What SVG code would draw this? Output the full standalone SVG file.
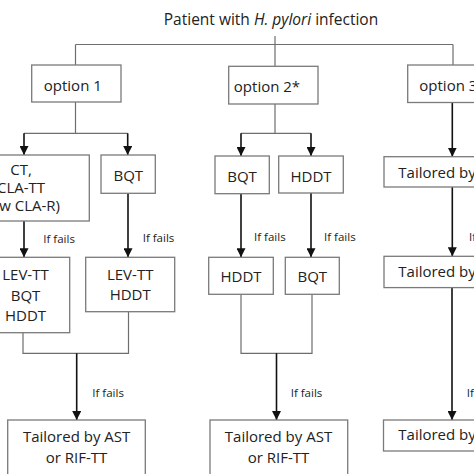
<svg xmlns="http://www.w3.org/2000/svg" width="474" height="474" viewBox="0 0 474 474">
<style>
text{font-family:"Open Sans","Liberation Sans",sans-serif;fill:#222;}
.t{font-size:15px;}
.c{text-anchor:middle;}
.f{font-size:11.5px;}
.box{fill:#fff;stroke:#7a7a7a;stroke-width:1.3;}
.ln{fill:none;stroke:#6e6e6e;stroke-width:1.2;}
.ar{fill:none;stroke:#111;stroke-width:1.6;marker-end:url(#ah);}
</style>
<defs>
<marker id="ah" viewBox="0 0 10 10" refX="10" refY="5" markerWidth="9" markerHeight="9" markerUnits="userSpaceOnUse" orient="auto">
<path d="M0,0 L10,5 L0,10 z" fill="#111"/>
</marker>
</defs>
<rect width="474" height="474" fill="#fff"/>
<g id="title"><text class="t c" x="271" y="25" style="font-size:15.5px">Patient with <tspan font-style="italic">H. pylori</tspan> infection</text></g>
<g id="connectors">
<path class="ln" d="M275,36 V66.3 M75.5,44.5 H453 M75.5,44.5 V65 M453,44.5 V65"/>
<path class="ln" d="M75.5,102 V133.3 M24,133.3 H127.7"/>
<path class="ln" d="M275,104 V133.3 M241,133.3 H311"/>
<path class="ln" d="M23,332.7 V353.3 H128.5 V311.7 M241,294.3 V353.3 H312 V294.3"/>
<path class="ar" d="M24,133.3 V155"/>
<path class="ar" d="M127.7,133.3 V155"/>
<path class="ar" d="M241,133.3 V156"/>
<path class="ar" d="M311,133.3 V156"/>
<path class="ar" d="M452.3,102.5 V156.7"/>
<path class="ar" d="M24,221 V257.3"/>
<path class="ar" d="M128,193.3 V257.3"/>
<path class="ar" d="M241,193.7 V257.3"/>
<path class="ar" d="M311,193 V257.3"/>
<path class="ar" d="M452.3,187 V256.3"/>
<path class="ar" d="M76.7,353.3 V420"/>
<path class="ar" d="M276.5,353.3 V420"/>
<path class="ar" d="M452,287.6 V420"/>
<text class="f" x="43.3" y="242.7">If fails</text>
<text class="f" x="142.7" y="241.7">If fails</text>
<text class="f" x="254" y="240.7">If fails</text>
<text class="f" x="324" y="240.7">If fails</text>
<text class="f" x="469" y="241">If fails</text>
<text class="f" x="92.3" y="397.3">If fails</text>
<text class="f" x="290.7" y="397.3">If fails</text>
<text class="f" x="466.7" y="397.3">If fails</text>
</g>
<g id="opt1"><rect class="box" x="31.7" y="65" width="89.3" height="37"/><text class="t c" x="72.8" y="90.7">option 1</text></g>
<g id="opt2"><rect class="box" x="228.7" y="66.3" width="89.3" height="37.7"/><text class="t c" x="267" y="92">option 2*</text></g>
<g id="opt3"><rect class="box" x="407.7" y="65" width="89.3" height="37.5"/><text class="t" x="419.3" y="90.7">option 3</text></g>
<g id="ct"><rect class="box" x="-48" y="155" width="137.3" height="66"/><text class="t c" x="21" y="175">CT,</text><text class="t c" x="21" y="192.7">CLA-TT</text><text class="t c" x="21" y="211">(low CLA-R)</text></g>
<g id="bqt1"><rect class="box" x="101" y="155" width="54.3" height="38.3"/><text class="t c" x="128.3" y="180.7">BQT</text></g>
<g id="bqt2"><rect class="box" x="215" y="156" width="54.3" height="37.7"/><text class="t c" x="242" y="181.5">BQT</text></g>
<g id="hddt2"><rect class="box" x="278.7" y="156" width="64.6" height="37"/><text class="t c" x="311" y="181.5">HDDT</text></g>
<g id="tail3a"><rect class="box" x="384" y="156.7" width="140" height="30.3"/><text class="t" x="398.3" y="178.3">Tailored by AST</text></g>
<g id="lev3"><rect class="box" x="-19" y="257.3" width="88.7" height="75.4"/><text class="t c" x="25.5" y="280">LEV-TT</text><text class="t c" x="25.5" y="300.5">BQT</text><text class="t c" x="25.5" y="320.7">HDDT</text></g>
<g id="lev2"><rect class="box" x="85.7" y="257.3" width="89" height="54.4"/><text class="t c" x="130.2" y="280">LEV-TT</text><text class="t c" x="130.2" y="300">HDDT</text></g>
<g id="hddt3"><rect class="box" x="208.7" y="257.3" width="64.6" height="37"/><text class="t c" x="241" y="281.7">HDDT</text></g>
<g id="bqt3"><rect class="box" x="285.3" y="257.3" width="54" height="37"/><text class="t c" x="312.3" y="281.7">BQT</text></g>
<g id="tail3b"><rect class="box" x="384" y="256.3" width="140" height="31.3"/><text class="t" x="398.3" y="276.7">Tailored by AST</text></g>
<g id="bot1"><rect class="box" x="7.7" y="420" width="137.6" height="70"/><text class="t c" x="76.6" y="441.7">Tailored by AST</text><text class="t c" x="76.6" y="462.7">or RIF-TT</text></g>
<g id="bot2"><rect class="box" x="210" y="420" width="137.7" height="70"/><text class="t c" x="278.5" y="441.7">Tailored by AST</text><text class="t c" x="278.5" y="462.7">or RIF-TT</text></g>
<g id="bot3"><rect class="box" x="383.5" y="420" width="140" height="31"/><text class="t" x="398.3" y="440">Tailored by AST</text></g>
</svg>
